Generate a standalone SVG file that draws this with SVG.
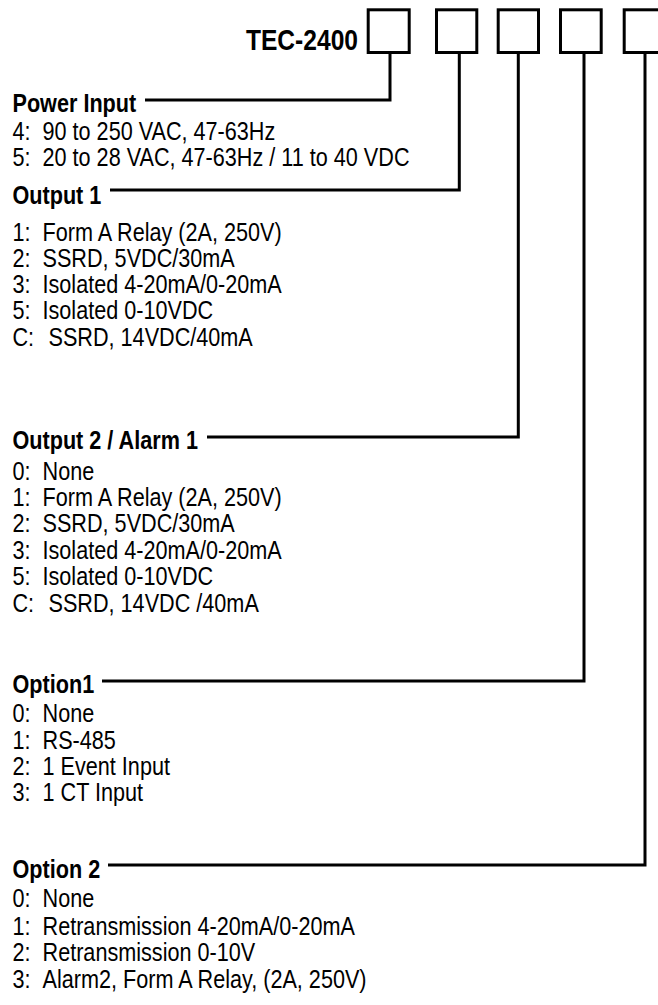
<svg xmlns="http://www.w3.org/2000/svg" width="658" height="1005" viewBox="0 0 658 1005">
<style>
text{font-family:"Liberation Sans",Arial,sans-serif;fill:#000}
.h{font-size:26px;font-weight:bold}
.t{font-size:26px}
.title{font-size:30px;font-weight:bold}
.box{fill:none;stroke:#000;stroke-width:3}
.conn{fill:none;stroke:#000;stroke-width:3;stroke-linejoin:miter}
</style>
<rect width="658" height="1005" fill="#fff"/>
<g id="model">
<text class="title" transform="scale(0.82 1)" x="436.6" y="50.5" text-anchor="end">TEC-2400</text>
<rect id="box1" class="box" x="368.2" y="9.8" width="41" height="42.7"/>
<rect id="box2" class="box" x="436.5" y="9.8" width="40.3" height="42.7"/>
<rect id="box3" class="box" x="498.2" y="9.8" width="40.3" height="42.7"/>
<rect id="box4" class="box" x="560.5" y="9.8" width="40.7" height="42.7"/>
<rect id="box5" class="box" x="624.2" y="9.8" width="41" height="42.7"/>
</g>
<g id="connectors">
<path class="conn" d="M390,51 V100 H145"/>
<path class="conn" d="M459.3,52 V190 H110"/>
<path class="conn" d="M518.3,52 V437 H207"/>
<path class="conn" d="M584,52 V681 H102"/>
<path class="conn" d="M645,52 V865 H108"/>
</g>
<g id="power-input" transform="scale(0.832 1)">
<text class="h" x="15" y="112.5">Power Input</text>
<text class="t" y="140"><tspan x="15">4: </tspan><tspan x="51.1">90 to 250 VAC, 47-63Hz</tspan></text>
<text class="t" y="166.5"><tspan x="15">5: </tspan><tspan x="51.1">20 to 28 VAC, 47-63Hz / 11 to 40 VDC</tspan></text>
</g>
<g id="output-1" transform="scale(0.832 1)">
<text class="h" x="15" y="204">Output 1</text>
<text class="t" y="241.5"><tspan x="15">1: </tspan><tspan x="51.1">Form A Relay (2A, 250V)</tspan></text>
<text class="t" y="267.5"><tspan x="15">2: </tspan><tspan x="51.1">SSRD, 5VDC/30mA</tspan></text>
<text class="t" y="293.5"><tspan x="15">3: </tspan><tspan x="51.1">Isolated 4-20mA/0-20mA</tspan></text>
<text class="t" y="319.5"><tspan x="15">5: </tspan><tspan x="51.1">Isolated 0-10VDC</tspan></text>
<text class="t" y="346"><tspan x="15">C: </tspan><tspan x="58.3">SSRD, 14VDC/40mA</tspan></text>
</g>
<g id="output-2-alarm-1" transform="scale(0.832 1)">
<text class="h" x="15" y="449">Output 2 / Alarm 1</text>
<text class="t" y="480.5"><tspan x="15">0: </tspan><tspan x="51.1">None</tspan></text>
<text class="t" y="506.5"><tspan x="15">1: </tspan><tspan x="51.1">Form A Relay (2A, 250V)</tspan></text>
<text class="t" y="532.5"><tspan x="15">2: </tspan><tspan x="51.1">SSRD, 5VDC/30mA</tspan></text>
<text class="t" y="559"><tspan x="15">3: </tspan><tspan x="51.1">Isolated 4-20mA/0-20mA</tspan></text>
<text class="t" y="585.5"><tspan x="15">5: </tspan><tspan x="51.1">Isolated 0-10VDC</tspan></text>
<text class="t" y="612"><tspan x="15">C: </tspan><tspan x="58.3">SSRD, 14VDC /40mA</tspan></text>
</g>
<g id="option-1" transform="scale(0.832 1)">
<text class="h" x="15" y="693">Option1</text>
<text class="t" y="722"><tspan x="15">0: </tspan><tspan x="51.1">None</tspan></text>
<text class="t" y="749"><tspan x="15">1: </tspan><tspan x="51.1">RS-485</tspan></text>
<text class="t" y="775.5"><tspan x="15">2: </tspan><tspan x="51.1">1 Event Input</tspan></text>
<text class="t" y="801.5"><tspan x="15">3: </tspan><tspan x="51.1">1 CT Input</tspan></text>
</g>
<g id="option-2" transform="scale(0.832 1)">
<text class="h" x="15" y="878">Option 2</text>
<text class="t" y="907.5"><tspan x="15">0: </tspan><tspan x="51.1">None</tspan></text>
<text class="t" y="934.5"><tspan x="15">1: </tspan><tspan x="51.1">Retransmission 4-20mA/0-20mA</tspan></text>
<text class="t" y="961"><tspan x="15">2: </tspan><tspan x="51.1">Retransmission 0-10V</tspan></text>
<text class="t" y="988"><tspan x="15">3: </tspan><tspan x="51.1">Alarm2, Form A Relay, (2A, 250V)</tspan></text>
</g>
</svg>
